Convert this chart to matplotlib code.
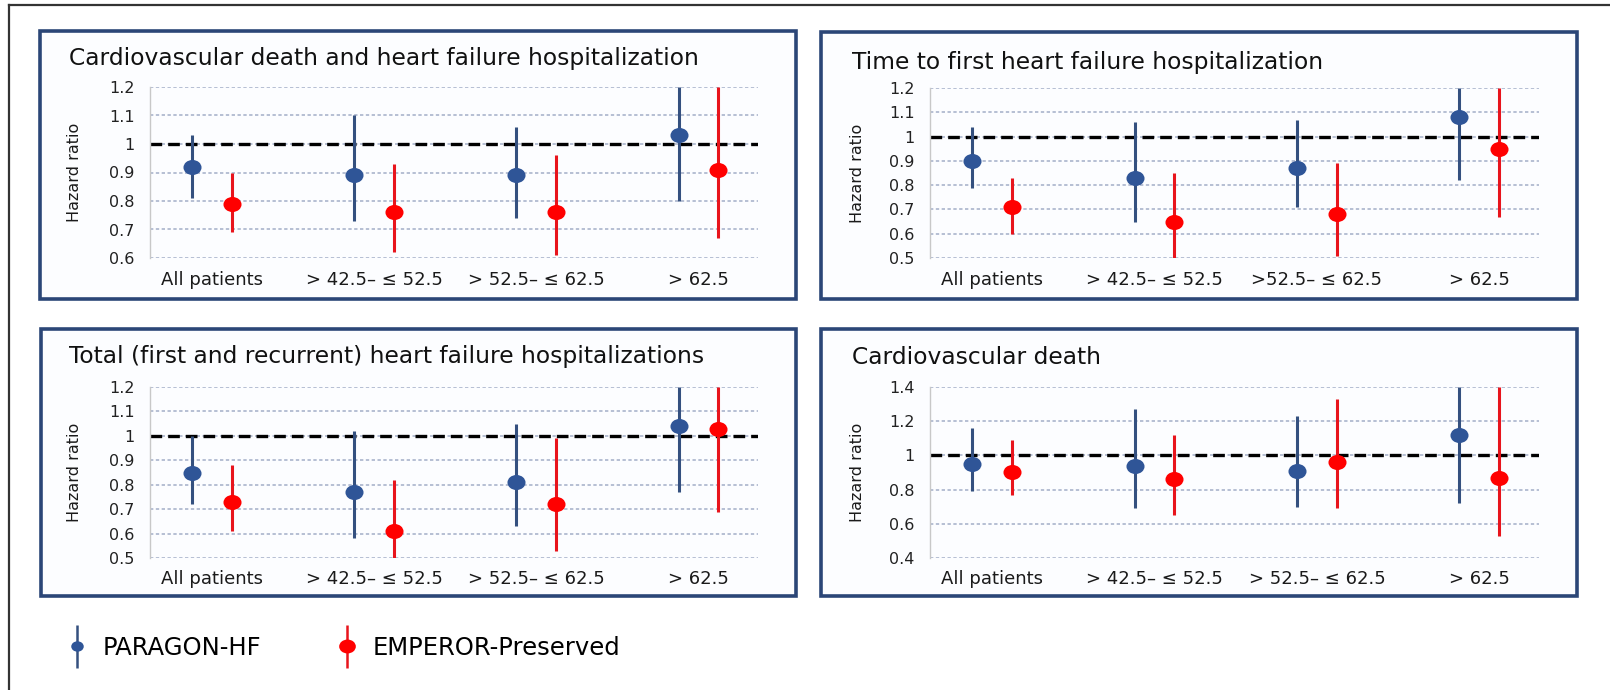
import matplotlib
matplotlib.use("Agg")
import matplotlib.pyplot as plt
from matplotlib.path import Path
from matplotlib.transforms import Affine2D
from matplotlib.patches import Rectangle
from matplotlib.lines import Line2D
from matplotlib.collections import LineCollection
from matplotlib.container import ErrorbarContainer
from matplotlib.legend_handler import HandlerErrorbar
from matplotlib.ticker import FormatStrFormatter, MultipleLocator

# LVEF subgroups
groups = ["All patients", "> 42.5– ≤ 52.5", "> 52.5– ≤ 62.5", "> 62.5"]
groups_hfh = ["All patients", "> 42.5– ≤ 52.5", ">52.5– ≤ 62.5", "> 62.5"]

# hazard ratios (point, lower CI, upper CI)
cvd_hfh_paragon = [0.92, 0.89, 0.89, 1.03]
cvd_hfh_paragon_lo = [0.81, 0.73, 0.74, 0.80]
cvd_hfh_paragon_hi = [1.03, 1.10, 1.06, 1.20]
cvd_hfh_emperor = [0.79, 0.76, 0.76, 0.91]
cvd_hfh_emperor_lo = [0.69, 0.62, 0.61, 0.67]
cvd_hfh_emperor_hi = [0.90, 0.93, 0.96, 1.20]

first_hfh_paragon = [0.90, 0.83, 0.87, 1.08]
first_hfh_paragon_lo = [0.79, 0.65, 0.71, 0.82]
first_hfh_paragon_hi = [1.04, 1.06, 1.07, 1.20]
first_hfh_emperor = [0.71, 0.65, 0.68, 0.95]
first_hfh_emperor_lo = [0.60, 0.50, 0.51, 0.67]
first_hfh_emperor_hi = [0.83, 0.85, 0.89, 1.20]

total_hfh_paragon = [0.85, 0.77, 0.81, 1.04]
total_hfh_paragon_lo = [0.72, 0.58, 0.63, 0.77]
total_hfh_paragon_hi = [1.00, 1.02, 1.05, 1.20]
total_hfh_emperor = [0.73, 0.61, 0.72, 1.03]
total_hfh_emperor_lo = [0.61, 0.50, 0.53, 0.69]
total_hfh_emperor_hi = [0.88, 0.82, 0.99, 1.20]

cvd_paragon = [0.95, 0.94, 0.91, 1.12]
cvd_paragon_lo = [0.79, 0.69, 0.70, 0.72]
cvd_paragon_hi = [1.16, 1.27, 1.23, 1.40]
cvd_emperor = [0.90, 0.86, 0.96, 0.87]
cvd_emperor_lo = [0.77, 0.65, 0.69, 0.53]
cvd_emperor_hi = [1.09, 1.12, 1.33, 1.40]

BLUE = "#2f5597"
BLUE_LINE = "#34507f"
RED = "#ff0000"
RED_LINE = "#e8141c"
BOX = "#2b4677"

W, H = 1610, 690
fig = plt.figure(figsize=(W / 100, H / 100), dpi=100)
fig.patch.set_facecolor("white")


def frac(x0, y0, x1, y1):
    return [x0 / W, 1 - y1 / H, (x1 - x0) / W, (y1 - y0) / H]


# slightly wide ellipse marker
ellipse = Path.unit_circle().transformed(Affine2D().scale(1.2, 1.0))

panels = [
    dict(title="Cardiovascular death and heart failure hospitalization",
         labels=groups, ylim=(0.6, 1.2), step=0.1,
         box=(40, 31, 796, 299), ax=(150, 87, 758, 258), title_xy=(69, 59),
         p=(cvd_hfh_paragon, cvd_hfh_paragon_lo, cvd_hfh_paragon_hi),
         e=(cvd_hfh_emperor, cvd_hfh_emperor_lo, cvd_hfh_emperor_hi)),
    dict(title="Time to first heart failure hospitalization",
         labels=groups_hfh, ylim=(0.5, 1.2), step=0.1,
         box=(821, 32, 1577, 299), ax=(930, 88, 1539, 258), title_xy=(852, 62),
         p=(first_hfh_paragon, first_hfh_paragon_lo, first_hfh_paragon_hi),
         e=(first_hfh_emperor, first_hfh_emperor_lo, first_hfh_emperor_hi)),
    dict(title="Total (first and recurrent) heart failure hospitalizations",
         labels=groups, ylim=(0.5, 1.2), step=0.1,
         box=(41, 329, 796, 596), ax=(150, 387, 758, 558), title_xy=(69, 357),
         p=(total_hfh_paragon, total_hfh_paragon_lo, total_hfh_paragon_hi),
         e=(total_hfh_emperor, total_hfh_emperor_lo, total_hfh_emperor_hi)),
    dict(title="Cardiovascular death",
         labels=groups, ylim=(0.4, 1.4), step=0.2,
         box=(821, 329, 1577, 596), ax=(930, 387, 1539, 558), title_xy=(852, 357),
         p=(cvd_paragon, cvd_paragon_lo, cvd_paragon_hi),
         e=(cvd_emperor, cvd_emperor_lo, cvd_emperor_hi)),
]

x = list(range(len(groups)))
off = 0.123

for pan in panels:
    bx0, by0, bx1, by1 = pan["box"]
    fig.add_artist(Rectangle((bx0 / W, 1 - by1 / H), (bx1 - bx0) / W, (by1 - by0) / H,
                             transform=fig.transFigure, fill=True, facecolor="#fcfdff",
                             edgecolor=BOX, lw=2.6, zorder=0))
    fig.text(pan["title_xy"][0] / W, 1 - pan["title_xy"][1] / H, pan["title"],
             fontsize=16.8, color="#111111", va="center", ha="left")

    ax = fig.add_axes(frac(*pan["ax"]))
    ax.patch.set_alpha(0)
    for side in ["top", "right", "bottom"]:
        ax.spines[side].set_visible(False)
    ax.spines["left"].set_color("#c8c8c8")
    ax.spines["left"].set_linewidth(1.0)

    ax.set_xlim(-0.382, 3.367)
    ax.set_ylim(*pan["ylim"])
    ax.yaxis.set_major_locator(MultipleLocator(pan["step"]))
    ax.yaxis.set_major_formatter(FormatStrFormatter("%g"))
    ax.set_xticks(x)
    ax.set_xticklabels(pan["labels"])
    ax.tick_params(axis="y", length=0, pad=11, labelsize=11.5, labelcolor="#222222")
    ax.tick_params(axis="x", length=0, pad=9, labelsize=13, labelcolor="#1a1a1a")
    ax.grid(axis="y", linestyle=(0, (2, 1.5)), color="#aab4cc", linewidth=1.2)
    ax.set_axisbelow(True)

    ax.axhline(1.0, color="black", linestyle=(0, (3.5, 1.8)), linewidth=2.4, zorder=2)

    ax.set_ylabel("Hazard ratio", fontsize=11.5, color="#1a1a1a")
    ax.yaxis.set_label_coords(-(pan["ax"][0] - pan["title_xy"][0] - 13) / (pan["ax"][2] - pan["ax"][0]), 0.5)

    for (mid, lo, hi), dx, mc, lc in [(pan["p"], -off, BLUE, BLUE_LINE),
                                      (pan["e"], off, RED, RED_LINE)]:
        yerr = [[m - l for m, l in zip(mid, lo)], [h - m for m, h in zip(mid, hi)]]
        ax.errorbar([i + dx for i in x], mid, yerr=yerr, fmt="none",
                    ecolor=lc, elinewidth=2.2, zorder=3)
        ax.plot([i + dx for i in x], mid, linestyle="none", marker=ellipse,
                markersize=13, color=mc, markeredgewidth=0, zorder=4)

# outer frame (left and top edges)
fig.add_artist(Line2D([9 / W, 9 / W], [0, 1 - 5 / H], transform=fig.transFigure,
                      color="#333333", lw=1.6))
fig.add_artist(Line2D([9 / W, 1], [1 - 5 / H, 1 - 5 / H], transform=fig.transFigure,
                      color="#333333", lw=1.6))


def legend_handle(color, line_color, ms, label):
    marker_line = Line2D([], [], linestyle="none", marker=ellipse, markersize=ms,
                         color=color, markeredgewidth=0)
    bar = LineCollection([], colors=line_color, linewidths=1.8)
    return ErrorbarContainer((marker_line, (), (bar,)), has_xerr=False,
                             has_yerr=True, label=label)


handles = [legend_handle(BLUE, BLUE_LINE, 9, "PARAGON-HF"),
           legend_handle(RED, RED_LINE, 12, "EMPEROR-Preserved")]
fig.legend(handles=handles, loc="center left", bbox_to_anchor=(45.6 / W, 1 - 648 / H),
           ncol=2, frameon=False, fontsize=17.5, handlelength=0.8,
           handletextpad=0.63, columnspacing=3.15, borderpad=0.4,
           handler_map={ErrorbarContainer: HandlerErrorbar(yerr_size=0.9, numpoints=1)})

fig.savefig("out.png", dpi=100, facecolor="white")
